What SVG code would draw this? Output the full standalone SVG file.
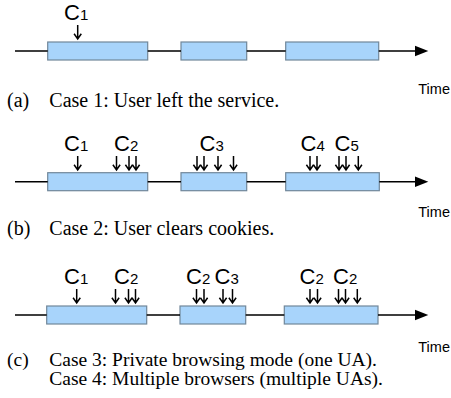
<svg xmlns="http://www.w3.org/2000/svg" xmlns:xlink="http://www.w3.org/1999/xlink" width="451" height="398" viewBox="0 0 451 398">
<style>
.box{fill:#a8d4fb;stroke:#71879a;stroke-width:1.2}
.tl{stroke:#000;stroke-width:1.4;fill:none}
.mk{stroke:#000;stroke-width:1.5;fill:none}
.lbl{font-family:"Liberation Sans",Arial,sans-serif;font-size:22px;fill:#000}
.sub{font-size:15px}
.time{font-family:"Liberation Sans",Arial,sans-serif;font-size:14.5px;fill:#000}
.cap{font-family:"Liberation Serif","Times New Roman",serif;font-size:20px;fill:#000}
.cap2{font-family:"Liberation Serif","Times New Roman",serif;font-size:19.5px;fill:#000}
</style>
<defs>
<path id="dn" d="M0,0V14M-3.6,8.8L0,14L3.6,8.8" class="mk"/>
<path id="head" d="M0,0L-13.3,-5.3L-13.3,5.3Z" fill="#000"/>
</defs>

<!-- Panel (a) -->
<g id="a-s1"><rect class="box" x="47.7" y="42" width="100" height="18"/></g>
<g id="a-s2"><rect class="box" x="181" y="42" width="65.7" height="18"/></g>
<g id="a-s3"><rect class="box" x="285.7" y="42" width="93" height="18"/></g>
<g id="a-labels">
<text class="lbl" x="64" y="19.5">C<tspan class="sub">1</tspan></text>
</g>

<!-- Panel (b) -->
<g id="b-s1"><rect class="box" x="47.7" y="172.7" width="100" height="18"/></g>
<g id="b-s2"><rect class="box" x="181" y="172.7" width="65.7" height="18"/></g>
<g id="b-s3"><rect class="box" x="285.7" y="172.7" width="93.6" height="18"/></g>
<g id="b-labels">
<text class="lbl" x="64" y="150.5">C<tspan class="sub">1</tspan></text>
<text class="lbl" x="114" y="150.5">C<tspan class="sub">2</tspan></text>
<text class="lbl" x="199.5" y="150.5">C<tspan class="sub">3</tspan></text>
<text class="lbl" x="300.5" y="150.5">C<tspan class="sub">4</tspan></text>
<text class="lbl" x="334.5" y="150.5">C<tspan class="sub">5</tspan></text>
</g>

<!-- Panel (c) -->
<g id="c-s1"><rect class="box" x="46.7" y="306" width="100" height="18"/></g>
<g id="c-s2"><rect class="box" x="180" y="306" width="65.7" height="18"/></g>
<g id="c-s3"><rect class="box" x="284.3" y="306" width="93.7" height="18"/></g>
<g id="c-labels">
<text class="lbl" x="64" y="284">C<tspan class="sub">1</tspan></text>
<text class="lbl" x="114" y="284">C<tspan class="sub">2</tspan></text>
<text class="lbl" x="186" y="284">C<tspan class="sub">2</tspan></text>
<text class="lbl" x="214.5" y="284">C<tspan class="sub">3</tspan></text>
<text class="lbl" x="299.5" y="284">C<tspan class="sub">2</tspan></text>
<text class="lbl" x="333" y="284">C<tspan class="sub">2</tspan></text>
</g>

<g id="connectors">
<!-- timelines (a) -->
<path class="tl" d="M15,51H47.7M147.7,51H181M246.7,51H285.7M378.7,51H416"/>
<use xlink:href="#head" x="428.3" y="51"/>
<!-- timelines (b) -->
<path class="tl" d="M15,181.7H47.7M147.7,181.7H181M246.7,181.7H285.7M379.3,181.7H416"/>
<use xlink:href="#head" x="428.3" y="181.7"/>
<!-- timelines (c) -->
<path class="tl" d="M15,315H46.7M146.7,315H180M245.7,315H284.3M378,315H416"/>
<use xlink:href="#head" x="428.3" y="315"/>

<!-- markers (a) -->
<use xlink:href="#dn" x="77.7" y="25"/>
<!-- markers (b) -->
<use xlink:href="#dn" x="77.7" y="156"/>
<use xlink:href="#dn" x="116.5" y="156"/>
<use xlink:href="#dn" x="129" y="156"/>
<use xlink:href="#dn" x="136" y="156"/>
<use xlink:href="#dn" x="197" y="156"/>
<use xlink:href="#dn" x="204" y="156"/>
<use xlink:href="#dn" x="218" y="156"/>
<use xlink:href="#dn" x="233.5" y="156"/>
<use xlink:href="#dn" x="310" y="156"/>
<use xlink:href="#dn" x="317" y="156"/>
<use xlink:href="#dn" x="339" y="156"/>
<use xlink:href="#dn" x="346" y="156"/>
<use xlink:href="#dn" x="358.3" y="156"/>
<!-- markers (c) -->
<use xlink:href="#dn" x="76.7" y="289"/>
<use xlink:href="#dn" x="115.5" y="289"/>
<use xlink:href="#dn" x="128.5" y="289"/>
<use xlink:href="#dn" x="135.5" y="289"/>
<use xlink:href="#dn" x="196.5" y="289"/>
<use xlink:href="#dn" x="204" y="289"/>
<use xlink:href="#dn" x="223" y="289"/>
<use xlink:href="#dn" x="232.5" y="289"/>
<use xlink:href="#dn" x="310" y="289"/>
<use xlink:href="#dn" x="317.5" y="289"/>
<use xlink:href="#dn" x="338.5" y="289"/>
<use xlink:href="#dn" x="345.5" y="289"/>
<use xlink:href="#dn" x="357.3" y="289"/>
</g>

<g id="texts">
<text class="time" x="418.3" y="94">Time</text>
<text class="time" x="418.3" y="217.3">Time</text>
<text class="time" x="418.3" y="351.7">Time</text>
<text class="cap" x="7" y="107">(a)</text>
<text class="cap" x="49.3" y="107">Case 1: User left the service.</text>
<text class="cap" x="7" y="235">(b)</text>
<text class="cap" x="49.3" y="235">Case 2: User clears cookies.</text>
<text class="cap2" x="7" y="365.5">(c)</text>
<text class="cap2" x="49.3" y="365.5">Case 3: Private browsing mode (one UA).</text>
<text class="cap2" x="49.3" y="384.5">Case 4: Multiple browsers (multiple UAs).</text>
</g>
</svg>
